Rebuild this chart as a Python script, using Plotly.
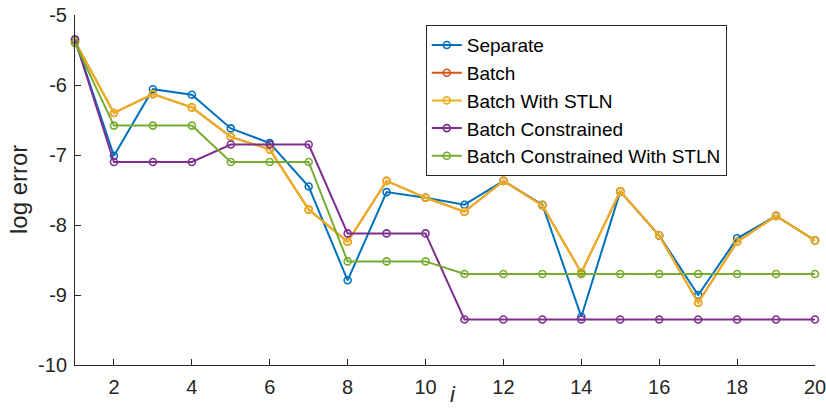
import plotly.graph_objects as go

i_vals = list(range(1, 21))

separate = [-5.35, -7.01, -6.06, -6.14, -6.62, -6.83, -7.45, -8.79, -7.53, -7.61,
            -7.71, -7.37, -7.71, -9.31, -7.52, -8.15, -9.00, -8.19, -7.87, -8.22]
batch = [-5.38, -6.40, -6.13, -6.32, -6.74, -6.92, -7.78, -8.24, -7.37, -7.61,
         -7.81, -7.37, -7.72, -8.68, -7.52, -8.15, -9.11, -8.24, -7.87, -8.22]
batch_stln = [-5.38, -6.40, -6.13, -6.32, -6.74, -6.92, -7.78, -8.24, -7.37, -7.61,
              -7.81, -7.37, -7.72, -8.68, -7.52, -8.15, -9.11, -8.24, -7.87, -8.22]
batch_constrained = [-5.35, -7.10, -7.10, -7.10, -6.85, -6.85, -6.85, -8.12, -8.12, -8.12,
                     -9.35, -9.35, -9.35, -9.35, -9.35, -9.35, -9.35, -9.35, -9.35, -9.35]
batch_constrained_stln = [-5.40, -6.58, -6.58, -6.58, -7.10, -7.10, -7.10, -8.52, -8.52, -8.52,
                          -8.70, -8.70, -8.70, -8.70, -8.70, -8.70, -8.70, -8.70, -8.70, -8.70]

series = [
    ("Separate", separate, "#0072BD"),
    ("Batch", batch, "#D95319"),
    ("Batch With STLN", batch_stln, "#EDB120"),
    ("Batch Constrained", batch_constrained, "#7E2F8E"),
    ("Batch Constrained With STLN", batch_constrained_stln, "#77AC30"),
]

x_ticks = [2, 4, 6, 8, 10, 12, 14, 16, 18, 20]
y_ticks = [-10, -9, -8, -7, -6, -5]
x_title = "<i>i</i>"
y_title = "log error"

FONT = "Liberation Sans, Arial, sans-serif"
AX = "#262626"

fig = go.Figure()
for name, vals, color in series:
    fig.add_trace(go.Scatter(
        x=i_vals, y=vals, name=name, mode="lines+markers",
        line=dict(color=color, width=2),
        marker=dict(symbol="circle-open", size=7, color=color, line=dict(width=1.6, color=color)),
        cliponaxis=False,
    ))

axis_common = dict(
    showgrid=False, zeroline=False, showline=True, linecolor=AX, linewidth=1,
    ticks="inside", ticklen=6, tickcolor=AX, tickfont=dict(size=20, color=AX),
    automargin=False, ticklabeloverflow="allow",
)

fig.update_layout(
    width=826, height=411,
    margin=dict(l=75, r=11, t=15, b=46),
    paper_bgcolor="white", plot_bgcolor="white",
    font=dict(family=FONT, color=AX, size=20),
    showlegend=True,
    legend=dict(
        x=0.474, y=0.971, xanchor="left", yanchor="top",
        bgcolor="white", bordercolor=AX, borderwidth=1,
        font=dict(size=19, color="black", family=FONT),
        itemwidth=30, tracegroupgap=0,
    ),
    xaxis=dict(range=[1, 20], tickvals=x_ticks, ticktext=[str(v) for v in x_ticks],
               ticklabelstandoff=4, **axis_common),
    yaxis=dict(range=[-10, -5], tickvals=y_ticks, ticktext=[str(v) for v in y_ticks],
               ticklabelstandoff=3, **axis_common),
    annotations=[
        dict(text=x_title, xref="paper", yref="paper", x=0.511, y=-0.0857,
             xanchor="center", yanchor="middle", showarrow=False,
             font=dict(size=22, color=AX, family=FONT)),
        dict(text=y_title, xref="paper", yref="paper", x=-0.077, y=0.5,
             xanchor="center", yanchor="middle", showarrow=False, textangle=-90,
             font=dict(size=24, color=AX, family=FONT)),
    ],
)

fig.write_html("out.html")
